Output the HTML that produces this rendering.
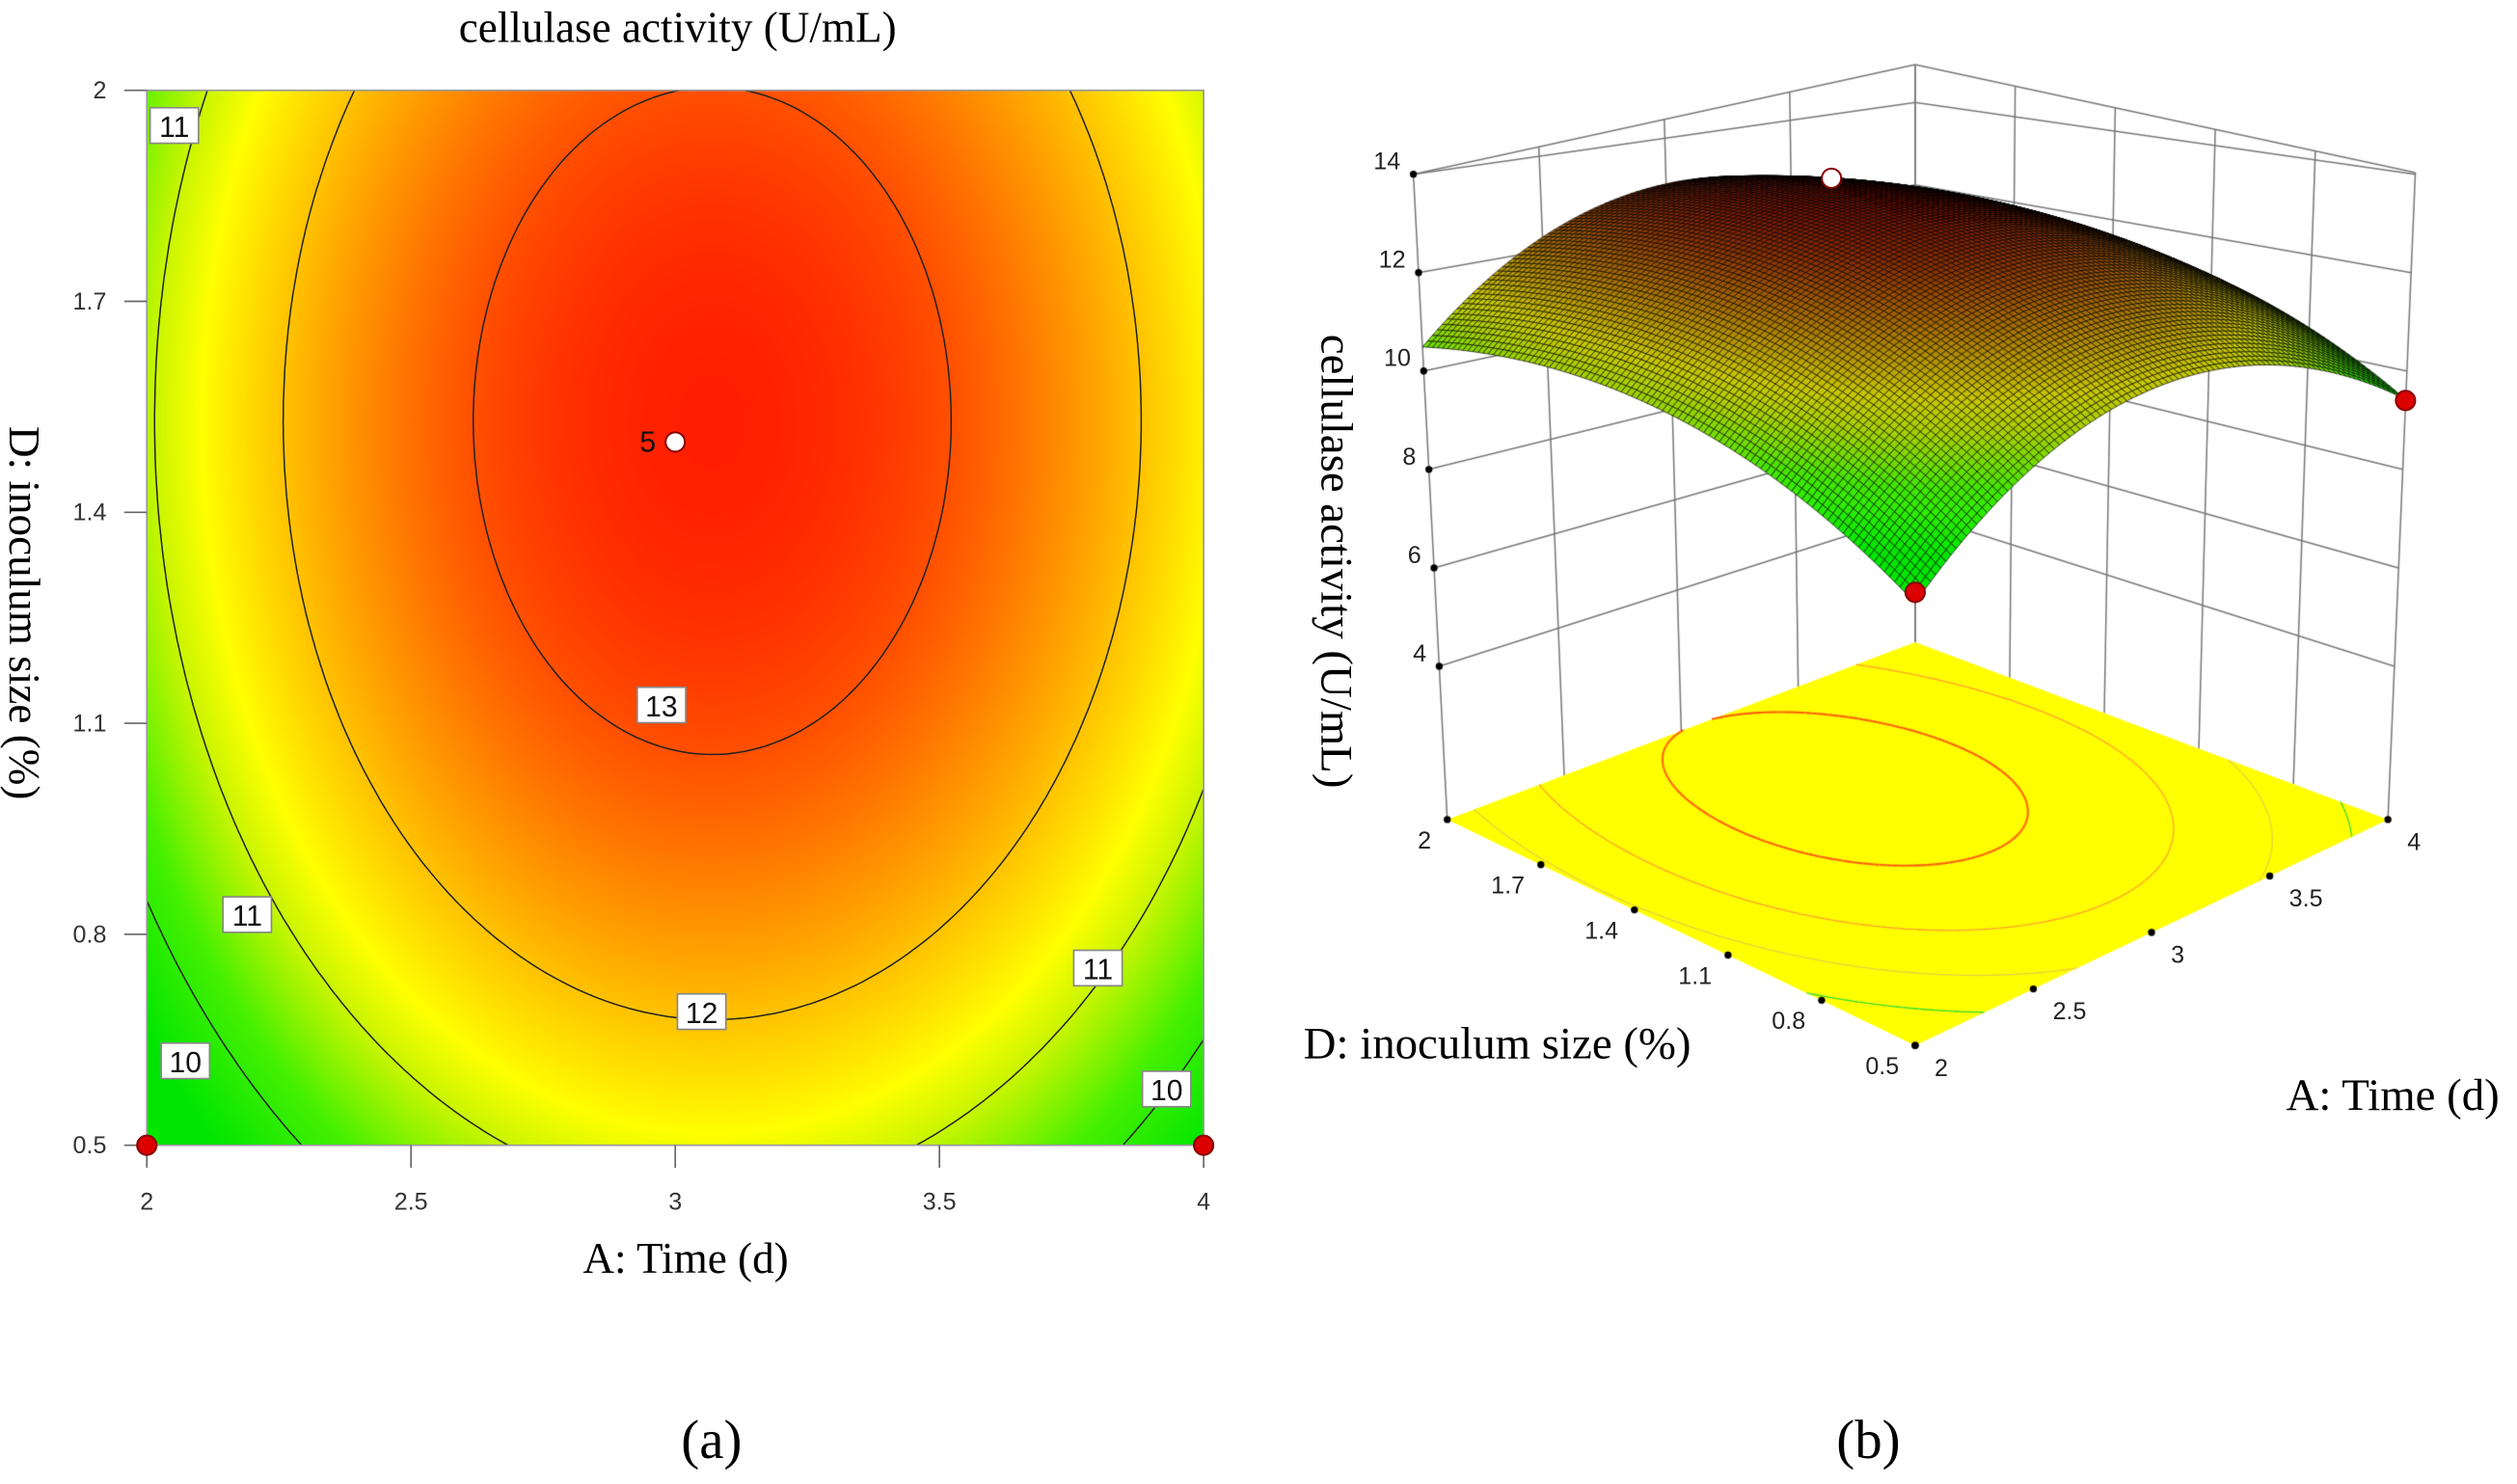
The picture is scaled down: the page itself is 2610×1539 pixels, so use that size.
<!DOCTYPE html>
<html><head><meta charset="utf-8"><style>
html,body{margin:0;padding:0;background:#fff;}
#wrap{position:relative;width:2610px;height:1539px;overflow:hidden;}
canvas,svg{position:absolute;left:0;top:0;}
</style></head><body>
<div id="wrap">
<canvas id="cv" width="2610" height="1539"></canvas>
<svg id="sv" width="2610" height="1539" viewBox="0 0 1560 920" preserveAspectRatio="none" font-family="Liberation Sans, sans-serif">
<text x="420" y="26" font-family="Liberation Serif, serif" font-size="27" text-anchor="middle">cellulase activity (U/mL)</text>
<text x="425" y="789" font-family="Liberation Serif, serif" font-size="27" text-anchor="middle">A: Time (d)</text>
<text transform="translate(6,380) rotate(90)" font-family="Liberation Serif, serif" font-size="27" text-anchor="middle">D: inoculum size (%)</text>
<text transform="translate(819,348) rotate(90)" font-family="Liberation Serif, serif" font-size="28" text-anchor="middle">cellulase activity (U/mL)</text>
<text x="928" y="656" font-family="Liberation Serif, serif" font-size="28" text-anchor="middle">D: inoculum size (%)</text>
<text x="1483" y="688" font-family="Liberation Serif, serif" font-size="28" text-anchor="middle">A: Time (d)</text>
<text x="441" y="904" font-family="Liberation Serif, serif" font-size="34" text-anchor="middle">(a)</text>
<text x="1158" y="904" font-family="Liberation Serif, serif" font-size="34" text-anchor="middle">(b)</text>
<g id="g2d"></g>
<g id="g3d"></g>
</svg>
</div>
<script>
// ---- data ----
const A_TICKS=[2,2.5,3,3.5,4];
const D_TICKS=[0.5,0.8,1.1,1.4,1.7,2];
const Z_TICKS=[4,6,8,10,12,14];
const MODEL_PEAK=13.45;
const MODEL_CENTER_A=3.07;
const MODEL_CENTER_D=1.53;
const A_COEF=[2.2];
const D_COEF=[2.0];
const CONTOUR_LEVELS=[10,11,12,13];
const LABEL_LEVELS=[11,13,12,11,11,10,10];
const LABEL_A=[2.052,2.974,3.05,2.19,3.80,2.073,3.93];
const LABEL_D=[1.95,1.126,0.69,0.828,0.752,0.62,0.58];
const DESIGN_A=[2,4,3];
const DESIGN_D=[0.5,0.5,1.5];
const DESIGN_VALUES=[9.0,9.4,13.9];
const DESIGN_TYPE=['red','red','white'];

function f(A,D){const x=A-MODEL_CENTER_A,y=D-MODEL_CENTER_D;
 return MODEL_PEAK-A_COEF[0]*x*x-D_COEF[0]*y*y;}
const STOPS=[[9.4,[0,230,0]],[10.3,[70,240,0]],[11.0,[200,245,0]],[11.4,[255,255,0]],[12.0,[255,195,0]],[12.5,[255,140,0]],[13.0,[255,80,0]],[13.5,[255,25,0]]];
function col(v){if(v<=STOPS[0][0])return STOPS[0][1];
 for(let i=1;i<STOPS.length;i++){if(v<=STOPS[i][0]){const t=(v-STOPS[i-1][0])/(STOPS[i][0]-STOPS[i-1][0]);const a=STOPS[i-1][1],b=STOPS[i][1];return [a[0]+(b[0]-a[0])*t,a[1]+(b[1]-a[1])*t,a[2]+(b[2]-a[2])*t];}}
 return STOPS[STOPS.length-1][1];}
const K=2610/1560;
const NS='http://www.w3.org/2000/svg';
function mk(tag,attrs,parent){const e=document.createElementNS(NS,tag);for(const k in attrs)e.setAttribute(k,attrs[k]);parent.appendChild(e);return e;}
const X0=91,X1=746,Y0=56,Y1=710;
const xA=A=>X0+(A-2)/2*(X1-X0);
const yD=D=>Y1-(D-0.5)/1.5*(Y1-Y0);
const cv=document.getElementById('cv');const ctx=cv.getContext('2d');
(function(){const px0=Math.round(X0*K),px1=Math.round(X1*K),py0=Math.round(Y0*K),py1=Math.round(Y1*K);
 const w=px1-px0,h=py1-py0;const img=ctx.createImageData(w,h);
 for(let j=0;j<h;j++){const D=0.5+(1-(j+0.5)/h)*1.5;for(let i=0;i<w;i++){const A=2+(i+0.5)/w*2;const c=col(f(A,D));const k=(j*w+i)*4;img.data[k]=c[0];img.data[k+1]=c[1];img.data[k+2]=c[2];img.data[k+3]=255;}}
 ctx.putImageData(img,px0,py0);})();
function contours(level,N){const segs=[];const g=[];
 for(let j=0;j<=N;j++){g.push([]);for(let i=0;i<=N;i++)g[j].push(f(2+i/N*2,0.5+j/N*1.5));}
 const P=(i,j)=>[2+i/N*2,0.5+j/N*1.5];
 for(let j=0;j<N;j++)for(let i=0;i<N;i++){
  const c=[[i,j],[i+1,j],[i+1,j+1],[i,j+1]];const v=c.map(p=>g[p[1]][p[0]]);const pts=[];
  for(let e=0;e<4;e++){const a=v[e],b=v[(e+1)%4];if((a<level)!==(b<level)){const t=(level-a)/(b-a);const pa=P(...c[e]),pb=P(...c[(e+1)%4]);pts.push([pa[0]+(pb[0]-pa[0])*t,pa[1]+(pb[1]-pa[1])*t]);}}
  if(pts.length===2)segs.push(pts);else if(pts.length===4){segs.push([pts[0],pts[1]]);segs.push([pts[2],pts[3]]);}
 }return segs;}
const g2=document.getElementById('g2d');
const CSEGS={};
CONTOUR_LEVELS.forEach(L=>{const s=contours(L,140);CSEGS[L]=s;
 const d=s.map(p=>'M'+xA(p[0][0]).toFixed(1)+' '+yD(p[0][1]).toFixed(1)+'L'+xA(p[1][0]).toFixed(1)+' '+yD(p[1][1]).toFixed(1)).join('');
 const e=mk('path',{d:d,stroke:'#222',fill:'none','stroke-width':0.9},g2);
 
 });
const frame=mk('rect',{x:X0,y:Y0,width:X1-X0,height:Y1-Y0,fill:'none',stroke:'#999','stroke-width':1},g2);

A_TICKS.forEach(a=>{const t=mk('line',{x1:xA(a),x2:xA(a),y1:Y1,y2:Y1+14,stroke:'#666','stroke-width':1},g2);
 
 const l=mk('text',{x:xA(a),y:Y1+40,'font-size':15,'text-anchor':'middle',fill:'#333'},g2);l.textContent=a;
 });
D_TICKS.forEach(d=>{const t=mk('line',{x1:X0-14,x2:X0,y1:yD(d),y2:yD(d),stroke:'#666','stroke-width':1},g2);
 
 const l=mk('text',{x:X0-25,y:yD(d)+5,'font-size':15,'text-anchor':'end',fill:'#333'},g2);l.textContent=d;
 });
LABEL_LEVELS.forEach((L,i)=>{const x=xA(LABEL_A[i]),y=yD(LABEL_D[i]);
 const r=mk('rect',{x:x-15,y:y-11,width:30,height:22,fill:'#fff',stroke:'#888','stroke-width':1},g2);
 
 const t=mk('text',{x:x,y:y+7,'font-size':18,'text-anchor':'middle',fill:'#111'},g2);t.textContent=L;
 });
DESIGN_A.forEach((a,i)=>{const c=mk('circle',{cx:xA(a),cy:yD(DESIGN_D[i]),r:6,fill:DESIGN_TYPE[i]==='red'?'#d00':'#fff',stroke:'#800','stroke-width':1.2},g2);
 });
(function(){const t=mk('text',{x:xA(3)-22,y:yD(1.5)+6,'font-size':18,fill:'#111'},g2);t.textContent='5';
 })();

const CF=[1187,648],CR=[1480,508],CL=[897,508],CB=[1187,398];
const SF=34.6,SR=30.5,SL=30.5,SB=25.5, LF=0,LR=0.042,LL=-0.0525,LB=0, Z0=0.885;
function bil(a,b,c,d,u,v){return a*(1-u)*(1-v)+b*u*(1-v)+c*(1-u)*v+d*u*v;}
function P3(A,D,z){const u=(A-2)/2,v=(D-0.5)/1.5;
 const bx=bil(CF[0],CR[0],CL[0],CB[0],u,v),by=bil(CF[1],CR[1],CL[1],CB[1],u,v);
 const s=bil(SF,SR,SL,SB,u,v),ln=bil(LF,LR,LL,LB,u,v);const h=(z-Z0)*s;return [bx+ln*h,by-h];}
const TOPL=[876,108],TOPB=[1187,40],TOPR=[1497,107];
ctx.setTransform(K,0,0,K,0,0);
ctx.strokeStyle='#777';ctx.lineWidth=0.9;
function line(p,q){ctx.beginPath();ctx.moveTo(p[0],p[1]);ctx.lineTo(q[0],q[1]);ctx.stroke();}
A_TICKS.forEach(a=>{const t=(a-2)/2;line(P3(a,2,Z0),[TOPL[0]+(TOPB[0]-TOPL[0])*t,TOPL[1]+(TOPB[1]-TOPL[1])*t]);});
D_TICKS.forEach(d=>{const t=(2-d)/1.5;line(P3(4,d,Z0),[TOPB[0]+(TOPR[0]-TOPB[0])*t,TOPB[1]+(TOPR[1]-TOPB[1])*t]);});
Z_TICKS.forEach(z=>{line(P3(2,2,z),P3(4,2,z));line(P3(4,2,z),P3(4,0.5,z));});
line(TOPL,TOPB);line(TOPB,TOPR);
ctx.fillStyle='#ffff00';ctx.beginPath();[CF,CR,CB,CL].forEach((p,i)=>i?ctx.lineTo(p[0],p[1]):ctx.moveTo(p[0],p[1]));ctx.closePath();ctx.fill();
const FLOORCOL={10:'#33dd33',11:'#e8d040',12:'#ffa030',13:'#ff6010'};
CONTOUR_LEVELS.forEach(L=>{ctx.strokeStyle=FLOORCOL[L];ctx.lineWidth=L===13?1.3:0.8;
 CSEGS[L].forEach(s=>line(P3(s[0][0],s[0][1],Z0),P3(s[1][0],s[1][1],Z0)));});
(function(){const N=96;const q=[];
 for(let j=0;j<N;j++)for(let i=0;i<N;i++){const a0=2+i/N*2,a1=2+(i+1)/N*2,d0=0.5+j/N*1.5,d1=0.5+(j+1)/N*1.5;q.push([a0,a1,d0,d1,(i+j)]);}
 q.sort((a,b)=>b[4]-a[4]);
 ctx.lineWidth=0.4;ctx.strokeStyle='#000';
 q.forEach(c=>{const p=[[c[0],c[2]],[c[1],c[2]],[c[1],c[3]],[c[0],c[3]]].map(e=>P3(e[0],e[1],f(e[0],e[1])));
  const v=f((c[0]+c[1])/2,(c[2]+c[3])/2);const cc=col(v);
  let t=(v-10)/3.5;t=Math.max(0,Math.min(1,t));const k=1-0.55*t;
  ctx.fillStyle='rgb('+Math.round(cc[0]*k)+','+Math.round(cc[1]*k)+','+Math.round(cc[2]*k)+')';
  ctx.beginPath();p.forEach((e,k2)=>k2?ctx.lineTo(e[0],e[1]):ctx.moveTo(e[0],e[1]));ctx.closePath();ctx.fill();ctx.stroke();});})();
ctx.fillStyle='#000';
function dot(p,r){ctx.beginPath();ctx.arc(p[0],p[1],r,0,7);ctx.fill();}
Z_TICKS.forEach(z=>dot(P3(2,2,z),2.2));
D_TICKS.forEach(d=>dot(P3(2,d,Z0),2.2));
A_TICKS.forEach(a=>dot(P3(a,0.5,Z0),2.2));
ctx.setTransform(1,0,0,1,0,0);
const g3=document.getElementById('g3d');
Z_TICKS.forEach(z=>{const p=P3(2,2,z);const t=mk('text',{x:p[0]-8,y:p[1]-3,'font-size':15,'text-anchor':'end',fill:'#222'},g3);t.textContent=z;
 });
D_TICKS.forEach(d=>{const p=P3(2,d,Z0);const t=mk('text',{x:p[0]-10,y:p[1]+18,'font-size':15,'text-anchor':'end',fill:'#222'},g3);t.textContent=d;
 });
A_TICKS.forEach(a=>{const p=P3(a,0.5,Z0);const t=mk('text',{x:p[0]+12,y:p[1]+19,'font-size':15,'text-anchor':'start',fill:'#222'},g3);t.textContent=a;
 });
DESIGN_A.forEach((a,i)=>{const p=P3(a,DESIGN_D[i],DESIGN_VALUES[i]);
 const c=mk('circle',{cx:p[0],cy:p[1],r:6,fill:DESIGN_TYPE[i]==='red'?'#d00':'#fff',stroke:'#800','stroke-width':1.2},g3);
 });
</script>
</body></html>
